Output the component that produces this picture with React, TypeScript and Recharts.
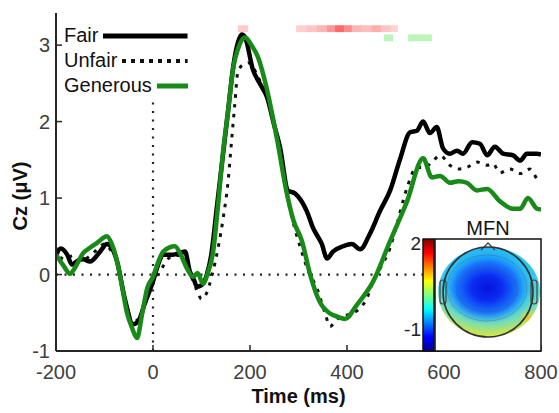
import React from "react";
import { LineChart, Line, XAxis, YAxis, ReferenceLine, ReferenceArea, Legend } from "recharts";

// time (ms) / amplitude (µV)
const fairTime = [-200, -190, -177, -167, -155, -144, -130, -109, -95, -85, -74, -58, -41, -31, -16, 0, 10, 21, 41, 55, 66, 76, 85, 91, 103, 111, 120, 132, 144, 155, 165, 176, 183, 190, 206, 220, 235, 250, 262, 278, 293, 305, 317, 330, 348, 359, 371, 392, 410, 427, 447, 468, 489, 509, 530, 544, 557, 571, 585, 598, 612, 627, 639, 658, 674, 689, 705, 722, 742, 757, 771, 792, 800];
const fairVals = [0.25, 0.34, 0.26, 0.13, 0.18, 0.2, 0.17, 0.3, 0.4, 0.35, 0.17, -0.32, -0.65, -0.62, -0.36, -0.09, 0.12, 0.26, 0.26, 0.28, 0.3, 0.04, -0.08, -0.16, -0.12, 0.0, 0.25, 0.9, 1.55, 2.15, 2.7, 3.05, 3.14, 3.1, 2.68, 2.5, 2.32, 1.95, 1.66, 1.1, 1.06, 0.97, 0.83, 0.61, 0.4, 0.21, 0.3, 0.37, 0.4, 0.33, 0.53, 0.83, 1.1, 1.5, 1.86, 1.88, 2.0, 1.85, 1.93, 1.65, 1.58, 1.62, 1.58, 1.73, 1.71, 1.56, 1.67, 1.58, 1.56, 1.49, 1.58, 1.58, 1.57];

const unfairTime = [-200, -190, -180, -165, -150, -135, -120, -100, -85, -75, -60, -45, -35, -20, -5, 5, 20, 30, 45, 60, 75, 90, 100, 110, 122, 134, 145, 155, 162, 169, 175, 185, 200, 215, 237, 262, 282, 305, 320, 338, 355, 365, 375, 386, 405, 425, 441, 454, 470, 489, 503, 524, 544, 560, 575, 592, 612, 630, 647, 668, 689, 701, 715, 736, 757, 777, 792, 800];
const unfairVals = [0.35, 0.22, 0.2, 0.25, 0.18, 0.22, 0.3, 0.4, 0.3, 0.2, -0.3, -0.58, -0.6, -0.45, -0.2, -0.05, 0.1, 0.2, 0.25, 0.25, 0.05, -0.2, -0.32, -0.25, 0.0, 0.34, 0.75, 1.23, 1.75, 2.25, 2.65, 2.74, 2.77, 2.6, 2.29, 1.58, 0.87, 0.33, 0.05, -0.18, -0.51, -0.68, -0.62, -0.55, -0.52, -0.45, -0.31, -0.09, 0.1, 0.35, 0.66, 1.14, 1.4, 1.4, 1.47, 1.56, 1.43, 1.38, 1.4, 1.47, 1.43, 1.45, 1.33, 1.38, 1.32, 1.38, 1.25, 1.2];

const generousTime = [-200, -185, -171, -160, -144, -130, -116, -95, -85, -74, -64, -54, -43, -33, -22, -12, 0, 10, 21, 45, 58, 70, 83, 92, 103, 112, 124, 134, 144, 155, 165, 178, 190, 203, 216, 235, 256, 276, 290, 307, 324, 344, 365, 380, 396, 420, 454, 489, 524, 557, 575, 592, 612, 630, 647, 668, 689, 715, 742, 757, 773, 792, 800];
const generousVals = [0.26, 0.12, 0.01, 0.1, 0.28, 0.35, 0.41, 0.5, 0.4, 0.17, -0.15, -0.49, -0.7, -0.83, -0.5, -0.18, -0.03, 0.15, 0.3, 0.37, 0.25, 0.08, -0.03, 0.02, -0.12, 0.0, 0.3, 0.9, 1.58, 2.15, 2.68, 3.0, 3.1, 3.0, 2.85, 2.42, 1.76, 1.06, 0.7, 0.44, 0.0, -0.36, -0.51, -0.55, -0.58, -0.4, -0.09, 0.44, 0.96, 1.52, 1.27, 1.29, 1.2, 1.22, 1.2, 1.1, 1.12, 0.96, 0.86, 0.86, 1.0, 0.86, 0.85];

const xTicks = [-200, 0, 200, 400, 600, 800];
const yTicks = [-1, 0, 1, 2, 3];

// significance strips: [start ms, end ms, strength]
const redStrips = [
  [175, 196, 0.25],
  [295, 316, 0.22], [316, 337, 0.28], [337, 358, 0.35], [358, 375, 0.5], [375, 395, 0.7],
  [395, 410, 0.55], [410, 430, 0.35], [430, 450, 0.3], [450, 470, 0.38], [470, 490, 0.28], [490, 505, 0.2],
];
const greenStrips = [
  [476, 495, 0.35],
  [526, 575, 0.35],
];

const toPoints = (t: number[], v: number[]) => t.map((x, i) => ({ t: x, v: v[i] }));
const fairData = toPoints(fairTime, fairVals);
const unfairData = toPoints(unfairTime, unfairVals);
const generousData = toPoints(generousTime, generousVals);

const FONT = "'Liberation Sans', Arial, sans-serif";
const AXIS = "#262626";
const GREEN = "#178a17";

function LegendBox({ payload }: any) {
  return (
    <div style={{ width: 124, fontFamily: FONT, fontSize: 20, color: "#111" }}>
      {(payload || []).map((p: any) => (
        <div key={p.value} style={{ display: "flex", alignItems: "center", height: 25 }}>
          <span style={{ whiteSpace: "nowrap" }}>{p.value}</span>
          <svg style={{ flex: 1, marginLeft: 5 }} height={8}>
            <line x1="0" y1="4" x2="100%" y2="4" stroke={p.color}
              strokeWidth={p.payload.strokeDasharray ? 4 : 5}
              strokeDasharray={p.payload.strokeDasharray ? "4 5" : undefined} />
          </svg>
        </div>
      ))}
    </div>
  );
}

function YLabel({ viewBox }: any) {
  const cx = viewBox.x + 20;
  const cy = viewBox.y + viewBox.height / 2 + 14;
  return (
    <text x={cx} y={cy} transform={`rotate(-90, ${cx}, ${cy})`} textAnchor="middle" dominantBaseline="central"
      fontFamily={FONT} fontWeight="bold" fontSize={20} fill="#111">Cz (μV)</text>
  );
}

function TopoInset() {
  return (
    <svg width={559} height={413} style={{ position: "absolute", left: 0, top: 0, pointerEvents: "none" }}>
      <defs>
        <linearGradient id="jet" x1="0" y1="0" x2="0" y2="1">
          <stop offset="0" stopColor="#800000" />
          <stop offset="0.125" stopColor="#ff0000" />
          <stop offset="0.375" stopColor="#ffff00" />
          <stop offset="0.625" stopColor="#00ffff" />
          <stop offset="0.875" stopColor="#0000ff" />
          <stop offset="1" stopColor="#00008f" />
        </linearGradient>
        <radialGradient id="topoBase" cx="0.5" cy="0.25" r="0.85">
          <stop offset="0" stopColor="#1ea8f5" />
          <stop offset="0.5" stopColor="#30c8f0" />
          <stop offset="0.68" stopColor="#70dcc0" />
          <stop offset="0.82" stopColor="#c8e650" />
          <stop offset="1" stopColor="#eee830" />
        </radialGradient>
        <radialGradient id="topoBlue" cx="0.5" cy="0.5" r="0.5">
          <stop offset="0" stopColor="#0614dc" />
          <stop offset="0.35" stopColor="#0a2cf0" />
          <stop offset="0.7" stopColor="#1466ff" stopOpacity="0.85" />
          <stop offset="1" stopColor="#1c9cff" stopOpacity="0" />
        </radialGradient>
        <radialGradient id="topoWarm" cx="0.5" cy="0.5" r="0.5">
          <stop offset="0" stopColor="#f0c020" />
          <stop offset="1" stopColor="#e8e830" stopOpacity="0" />
        </radialGradient>
        <clipPath id="topoClip">
          <ellipse cx={489} cy={292} rx={51} ry={45} />
        </clipPath>
      </defs>
      <rect x={435} y={239} width={106} height={112} fill="#fff" stroke="#111" strokeWidth={1.5} />
      <text x={488} y={235} textAnchor="middle" fontFamily={FONT} fontSize={20} fill="#111">MFN</text>
      <rect x={423} y={239} width={11} height={112} fill="url(#jet)" stroke="#111" strokeWidth={1.5} />
      <text x={421} y={250} textAnchor="end" fontFamily={FONT} fontSize={19} fill="#222">2</text>
      <text x={421} y={336} textAnchor="end" fontFamily={FONT} fontSize={19} fill="#222">-1</text>
      <g clipPath="url(#topoClip)">
        <rect x={436} y={245} width={106} height={94} fill="url(#topoBase)" />
        <ellipse cx={487} cy={288} rx={44} ry={36} fill="url(#topoBlue)" />
        <circle cx={528} cy={318} r={9} fill="url(#topoWarm)" />
        <ellipse cx={487} cy={290} rx={30} ry={22} fill="none" stroke="#555" strokeOpacity={0.35} />
        <ellipse cx={487} cy={288} rx={40} ry={33} fill="none" stroke="#555" strokeOpacity={0.3} />
      </g>
      <path d="M481,250 L488,243 L495,250" fill="none" stroke="#444" strokeWidth={1.3} />
      <rect x={440} y={280} width={6} height={24} rx={3} fill="none" stroke="#444" strokeWidth={1.2} />
      <rect x={531} y={280} width={6} height={24} rx={3} fill="none" stroke="#444" strokeWidth={1.2} />
      <circle cx={488} cy={292} r={45} fill="none" stroke="#333" strokeWidth={1.6} />
    </svg>
  );
}

export default function App() {
  const tickFont = { fill: "#404040", fontSize: 20, fontFamily: FONT };
  return (
    <div style={{ position: "absolute", left: 0, top: 0, width: 559, height: 413, background: "#fff" }}>
      <LineChart width={559} height={413} margin={{ top: 13, right: 18, bottom: 22, left: 0 }}>
        <XAxis dataKey="t" type="number" domain={[-200, 800]} ticks={xTicks} allowDataOverflow
          height={40} tickSize={-6} tickMargin={20} tick={tickFont}
          axisLine={{ stroke: AXIS, strokeWidth: 2 }} tickLine={{ stroke: AXIS, strokeWidth: 1.5 }}
          label={{ value: "Time (ms)", position: "bottom", offset: -2, fill: "#111", fontSize: 20, fontWeight: "bold", fontFamily: FONT }} />
        <XAxis xAxisId="top" orientation="top" type="number" domain={[-200, 800]} ticks={xTicks} allowDataOverflow
          height={0} tickSize={-6} tick={false}
          axisLine={{ stroke: AXIS, strokeWidth: 2 }} tickLine={{ stroke: AXIS, strokeWidth: 1.5 }} />
        <YAxis type="number" domain={[-1, 3.42]} ticks={yTicks} allowDataOverflow
          width={56} tickSize={-6} tickMargin={12} tick={tickFont}
          axisLine={{ stroke: AXIS, strokeWidth: 2 }} tickLine={{ stroke: AXIS, strokeWidth: 1.5 }}
          label={<YLabel />} />
        <YAxis yAxisId="right" orientation="right" type="number" domain={[-1, 3.42]} ticks={yTicks} allowDataOverflow
          width={0} tickSize={-6} tick={false}
          axisLine={{ stroke: AXIS, strokeWidth: 2 }} tickLine={{ stroke: AXIS, strokeWidth: 1.5 }} />

        <ReferenceLine y={0} stroke="#222" strokeWidth={2.2} strokeDasharray="2 6.5" />
        <ReferenceLine segment={[{ x: 0, y: -1 }, { x: 0, y: 2.31 }]} stroke="#222" strokeWidth={2.2} strokeDasharray="2 6.5" />

        {redStrips.map(([a, b, s], i) => (
          <ReferenceArea key={`r${i}`} x1={a} x2={b} y1={3.17} y2={3.26} fill="#ff2a2a" fillOpacity={s} stroke="none" />
        ))}
        {greenStrips.map(([a, b, s], i) => (
          <ReferenceArea key={`g${i}`} x1={a} x2={b} y1={3.05} y2={3.14} fill="#40e040" fillOpacity={s} stroke="none" />
        ))}

        <Line data={unfairData} dataKey="v" name="Unfair" type="monotone" stroke="#111" strokeWidth={3}
          strokeDasharray="3.5 6.5" dot={false} isAnimationActive={false} />
        <Line data={fairData} dataKey="v" name="Fair" type="monotone" stroke="#000" strokeWidth={4.5}
          dot={false} isAnimationActive={false} />
        <Line data={generousData} dataKey="v" name="Generous" type="monotone" stroke={GREEN} strokeWidth={4.5}
          dot={false} isAnimationActive={false} />

        <Legend layout="horizontal" verticalAlign="middle" align="center"
          content={(props: any) => {
            const order = ["Fair", "Unfair", "Generous"];
            const items = [...(props.payload || [])].sort((a: any, b: any) => order.indexOf(a.value) - order.indexOf(b.value));
            return <LegendBox payload={items} />;
          }}
          wrapperStyle={{ top: 23, left: 64, width: 124 }} />
      </LineChart>
      <TopoInset />
    </div>
  );
}
